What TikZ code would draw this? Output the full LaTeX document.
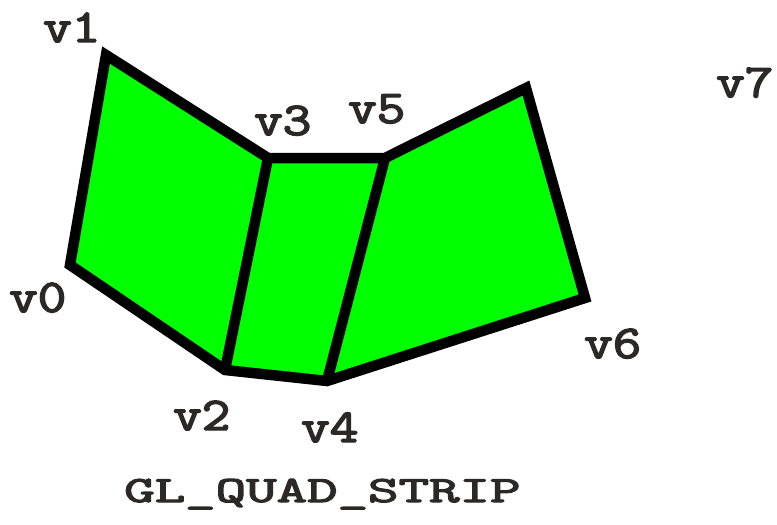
\documentclass[tikz,border=0pt]{standalone}
\usepackage{fontspec}
\newfontfamily\vfont{Latin Modern Mono}[FakeBold=3]
\definecolor{quadgreen}{RGB}{0,255,0}
\definecolor{labelgray}{RGB}{45,40,40}
\newcommand{\vtxt}[1]{\scalebox{1.18}[1]{#1}}
\begin{document}
\begin{tikzpicture}[x=1pt,y=-1pt,
  vlabel/.style={anchor=base west,inner sep=0pt,text=labelgray,font=\vfont\fontsize{47}{47}\selectfont},
  edge/.style={line width=10.5pt,line join=miter},
  strip/.style={fill=quadgreen}]
\useasboundingbox (0,0) rectangle (777,525);
\coordinate (p0) at (70,265);
\coordinate (p1) at (106,55);
\coordinate (p2) at (225,370);
\coordinate (p3) at (268,158);
\coordinate (p4) at (327,381);
\coordinate (p5) at (385,158);
\coordinate (p6) at (585,298);
\coordinate (p7) at (526,88);
\fill[strip] (p0) -- (p1) -- (p3) -- (p5) -- (p7) -- (p6) -- (p4) -- (p2) -- cycle;
\draw[edge] (p0) -- (p1) -- (p3) -- (p5) -- (p7) -- (p6) -- (p4) -- (p2) -- cycle;
\draw[edge] (p2) -- (p3);
\draw[edge] (p4) -- (p5);
\node[vlabel] (l0) at (9,312) {\vtxt{v0}};
\node[vlabel] (l1) at (43,42) {\vtxt{v1}};
\node[vlabel] (l2) at (173,430) {\vtxt{v2}};
\node[vlabel] (l3) at (254,135) {\vtxt{v3}};
\node[vlabel] (l4) at (301,442) {\vtxt{v4}};
\node[vlabel] (l5) at (348,123) {\vtxt{v5}};
\node[vlabel] (l6) at (584,358) {\vtxt{v6}};
\node[vlabel] (l7) at (716,97) {\vtxt{v7}};
\node[anchor=base west,inner sep=0pt,text=labelgray,font=\vfont\fontsize{37}{37}\selectfont] (title) at (124,502) {\scalebox{1.6}[1]{GL\_QUAD\_STRIP}};
\end{tikzpicture}
\end{document}
